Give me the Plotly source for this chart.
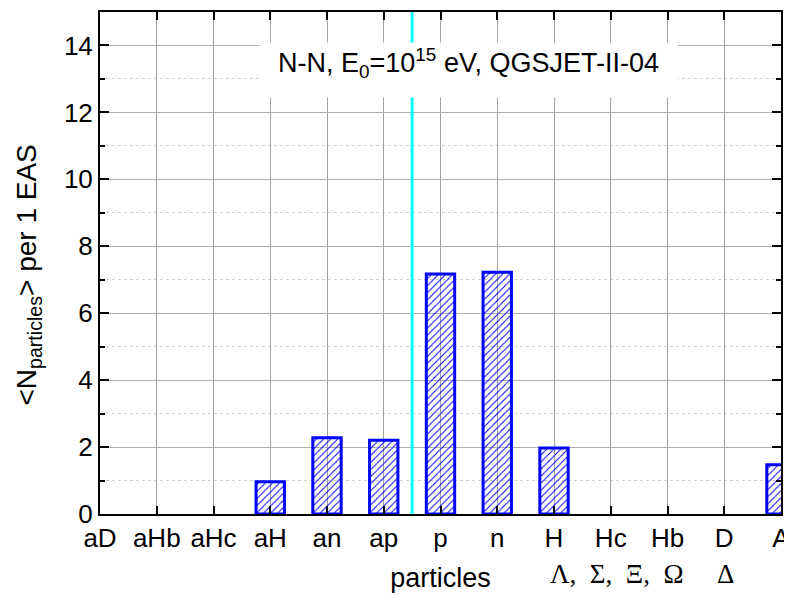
import plotly.graph_objects as go

categories = ["aD", "aHb", "aHc", "aH", "an", "ap", "p", "n", "H", "Hc", "Hb", "D", "A"]
values = [0, 0, 0, 0.96, 2.28, 2.2, 7.17, 7.22, 1.97, 0, 0, 0, 1.47]
y_ticks = [0, 2, 4, 6, 8, 10, 12, 14]
divider_x = 5.5
second_row_labels = [("Λ, \u00a0Σ, \u00a0Ξ, \u00a0Ω", 9.105), ("Δ", 11.03)]
y_title = "&lt;N<sub>particles</sub>&gt; per 1 EAS"

font_main = "Liberation Sans, Arial, sans-serif"
FS = 26

# zero-count categories are drawn as no bar at all
bar_y = [v if v > 0 else None for v in values]

fig = go.Figure()
fig.add_trace(go.Bar(
    x=categories,
    y=bar_y,
    width=0.5,
    marker=dict(
        color="rgba(0,0,0,0)",
        line=dict(color="#0000FF", width=3),
        pattern=dict(shape="/", fgcolor="#0000FF", bgcolor="rgba(0,0,0,0)",
                     size=5, solidity=0.2, fillmode="replace"),
    ),
    showlegend=False,
))

fig.add_shape(type="line", xref="x", yref="paper", x0=divider_x, x1=divider_x,
              y0=0, y1=1, line=dict(color="#00FFFF", width=3), layer="above")

fig.add_annotation(
    text="N-N, E<sub>0</sub>=10<sup>15</sup> eV, QGSJET-II-04",
    xref="x", yref="y", x=6.49, y=13.27, showarrow=False,
    font=dict(family=font_main, size=27, color="black"),
    bgcolor="white", width=415, height=52, valign="top",
)

for txt, xpos in second_row_labels:
    fig.add_annotation(
        text=txt, xref="x", yref="paper", x=xpos, y=-0.1195, yanchor="middle",
        showarrow=False,
        font=dict(family="Liberation Serif, Times New Roman, serif", size=27, color="black"),
    )

# y-axis title placed as rotated text (centred slightly below the plot middle, as in the original)
fig.add_annotation(
    text=y_title, xref="paper", yref="paper", x=-0.105, y=0.476,
    xanchor="center", yanchor="middle", textangle=-90, showarrow=False,
    font=dict(family=font_main, size=28, color="black"),
)

# page body has an 8px margin: figure is shrunk/shifted so the plot area
# lands at x 100..781, y 12..514 of the 792x594 window
fig.update_layout(
    width=784, height=586,
    margin=dict(l=92, r=11, t=4, b=80),
    plot_bgcolor="white", paper_bgcolor="white",
    font=dict(family=font_main, size=FS, color="black"),
)

fig.update_xaxes(
    type="category", range=[0, 12], automargin=False,
    showline=True, linecolor="black", linewidth=2, mirror="ticks",
    ticks="inside", ticklen=8, tickwidth=2, tickcolor="black",
    showgrid=True, gridcolor="#a0a0a0", gridwidth=1,
    tickfont=dict(size=FS),
    title=dict(text="particles", font=dict(size=27), standoff=16),
)
fig.update_yaxes(
    range=[0, 15], tickvals=y_ticks, automargin=False,
    showline=True, linecolor="black", linewidth=2, mirror="ticks",
    ticks="inside", ticklen=9, tickwidth=2, tickcolor="black",
    showgrid=True, gridcolor="#b0b0b0", gridwidth=1, griddash="solid",
    zeroline=False,
    minor=dict(dtick=1, ticks="inside", ticklen=5, tickwidth=2, tickcolor="black",
               showgrid=True, gridcolor="#d0d0d0", griddash="dot", gridwidth=1),
    tickfont=dict(size=FS),
)

fig.write_html("out.html")
